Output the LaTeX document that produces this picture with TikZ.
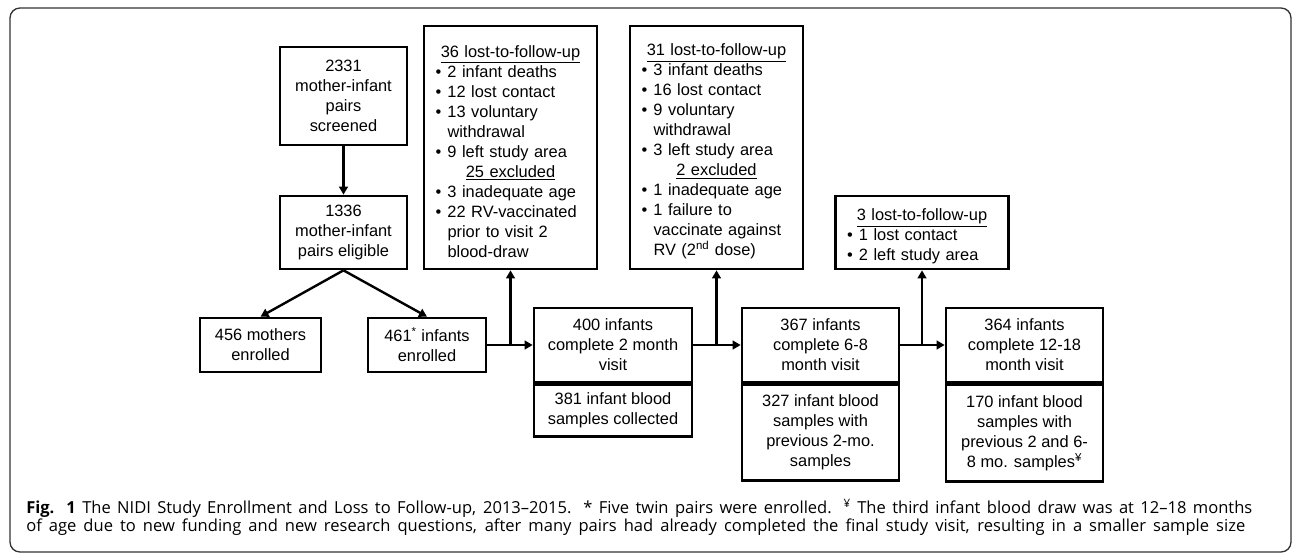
\documentclass[tikz,border=0pt]{standalone}
\usepackage{fontspec}
\setmainfont{Liberation Sans}
\newfontfamily\capfont{Open Sans}
\usetikzlibrary{arrows.meta,positioning}

\tikzset{
  box/.style={draw, line width=2pt, align=center, inner sep=0pt,
    font=\fontsize{12.3}{15}\selectfont},
  lostbox/.style={draw, line width=2pt, align=left, inner xsep=8.6pt, inner ysep=0pt,
    text width=112.5pt, font=\fontsize{12.3}{15}\selectfont},
  arr/.style={draw, line width=1.8pt, -{Triangle[length=6pt,width=6.5pt]}},
  caption/.style={anchor=base west, inner sep=0pt, font=\capfont\fontsize{12.4}{15}\selectfont}
}

\newcommand{\losthead}[1]{\par\centerline{\underline{#1}}}
\newcommand{\lostitem}{\par\hangindent=9pt\hangafter=1\noindent\makebox[9pt][l]{\textbullet}}

\begin{document}
\begin{tikzpicture}[x=0.75pt, y=-0.75pt]
\useasboundingbox (0,0) rectangle (1293,553);
\draw[line width=1pt, draw=black!80, rounded corners=7.5pt] (10,8) rectangle (1291,552);

% enrolment
\node[box, minimum width=95.25pt, minimum height=73.5pt] (screened) at (343.5,96) {2331\\mother-infant\\pairs\\screened};
\node[box, minimum width=95.25pt, minimum height=54.75pt] (eligible) at (343.5,232.5) {1336\\mother-infant\\pairs eligible};
\node[box, minimum width=90.75pt, minimum height=40.5pt] (mothers) at (260.5,345) {456 mothers\\enrolled};
\node[box, minimum width=88.5pt, minimum height=40.5pt] (infants) at (427,345) {461\textsuperscript{*} infants\\enrolled};

\path[arr] (screened) -- (eligible);
\path[arr] (eligible.south) -- (mothers.north);
\path[arr] (eligible.south) -- (infants.north);

% losses
\node[lostbox, minimum height=182.25pt] (lost36) at (510.5,147.5) {%
  \losthead{36 lost-to-follow-up}
  \lostitem 2 infant deaths
  \lostitem 12 lost contact
  \lostitem 13 voluntary\newline withdrawal
  \lostitem 9 left study area
  \losthead{25 excluded}
  \lostitem 3 inadequate age
  \lostitem 22 RV-vaccinated\newline prior to visit 2\newline blood-draw\par};
\node[lostbox, minimum height=182.25pt] (lost31) at (716.5,147.5) {%
  \losthead{31 lost-to-follow-up}
  \lostitem 3 infant deaths
  \lostitem 16 lost contact
  \lostitem 9 voluntary\newline withdrawal
  \lostitem 3 left study area
  \losthead{2 excluded}
  \lostitem 1 inadequate age
  \lostitem 1 failure to\newline vaccinate against\newline RV (2\textsuperscript{nd} dose)\par};
\node[lostbox, minimum height=54.75pt] (lost3) at (922,232.5) {%
  \losthead{3 lost-to-follow-up}
  \lostitem 1 lost contact
  \lostitem 2 left study area\par};

% visits
\node[box, minimum width=118.5pt, minimum height=55.5pt] (visit2) at (613,345) {400 infants\\complete 2 month\\visit};
\node[box, minimum width=118.5pt, minimum height=39pt, below=0pt of visit2] (blood2) {381 infant blood\\samples collected};
\node[box, minimum width=117.75pt, minimum height=55.5pt] (visit68) at (820.5,345) {367 infants\\complete 6-8\\month visit};
\node[box, minimum width=117.75pt, minimum height=72pt, below=0pt of visit68] (blood68) {327 infant blood\\samples with\\previous 2-mo.\\samples};
\node[box, minimum width=117.75pt, minimum height=55.5pt] (visit1218) at (1024.5,345) {364 infants\\complete 12-18\\month visit};
\node[box, minimum width=117.75pt, minimum height=72.75pt, below=0pt of visit1218] (blood1218) {170 infant blood\\samples with\\previous 2 and 6-\\8 mo. samples\textsuperscript{¥}};

\coordinate (j1) at (lost36.south |- visit2.west);
\coordinate (j2) at (lost31.south |- visit68.west);
\coordinate (j3) at (lost3.south |- visit1218.west);
\path[arr] (infants.east) -- (visit2.west);
\path[arr] (visit2.east) -- (visit68.west);
\path[arr] (visit68.east) -- (visit1218.west);
\path[arr] (j1) -- (lost36.south);
\path[arr] (j2) -- (lost31.south);
\path[arr] (j3) -- (lost3.south);

% caption
\node[caption] (capline1) at (26,513) {\makebox[919.5pt][s]{\textbf{Fig. 1} The NIDI Study Enrollment and Loss to Follow-up, 2013–2015. * Five twin pairs were enrolled. \textsuperscript{¥} The third infant blood draw was at 12–18 months}};
\node[caption] (capline2) at (26,531.5) {\makebox[914.25pt][s]{of age due to new funding and new research questions, after many pairs had already completed the final study visit, resulting in a smaller sample size}};
\end{tikzpicture}
\end{document}
